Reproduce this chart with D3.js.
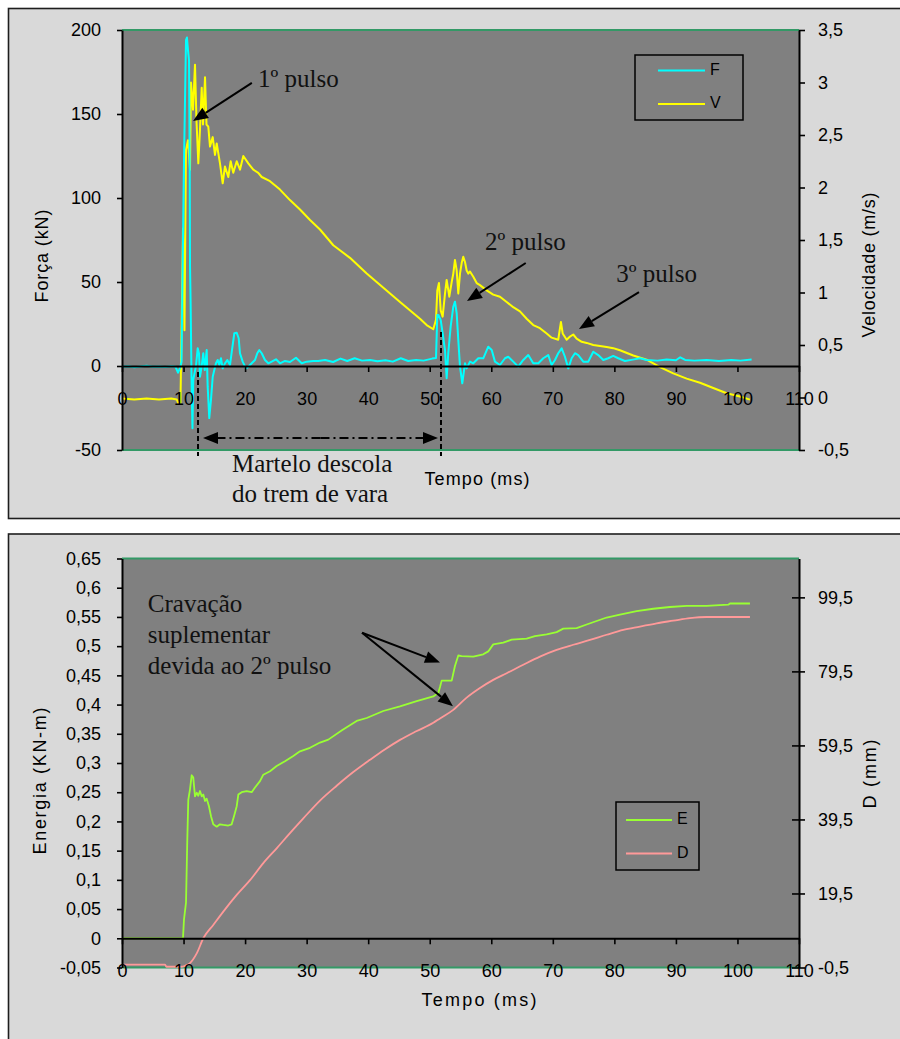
<!DOCTYPE html>
<html>
<head>
<meta charset="utf-8">
<script src="https://cdn.jsdelivr.net/npm/d3@7"></script>
<style>
  body { margin: 0; background: #ffffff; }
  svg { display: block; font-family: "Liberation Sans", Arial, sans-serif; }
</style>
</head>
<body>
<svg id="chart" width="900" height="1039"></svg>
<script>
// ---------- data: pile driving record ----------
const timeTicks = [0, 10, 20, 30, 40, 50, 60, 70, 80, 90, 100, 110];
const forceTicks = [-50, 0, 50, 100, 150, 200];
const velTicks = [-0.5, 0, 0.5, 1, 1.5, 2, 2.5, 3, 3.5];
const energyTicks = [-0.05, 0, 0.05, 0.1, 0.15, 0.2, 0.25, 0.3, 0.35, 0.4, 0.45, 0.5, 0.55, 0.6, 0.65];
const dispTicks = [-0.5, 19.5, 39.5, 59.5, 79.5, 99.5];

// Force F (kN) vs time (ms)
const forceTime = [0, 1, 2, 3, 4, 5, 6, 7, 8, 8.7, 9.1, 9.42, 9.67, 9.91, 10.07, 10.2, 10.4, 10.55, 10.72, 10.89,
  11.0, 11.05, 11.15, 11.3, 11.45, 11.58, 12.02, 12.3, 12.51, 12.67, 12.95, 13.21, 13.44, 13.76, 13.92, 14.18,
  14.46, 14.74, 15.0, 15.27, 15.55, 15.81, 16.08, 16.36, 16.73, 17.11, 17.55, 17.87, 18.25, 18.64, 18.96, 19.17,
  19.61, 20.15, 20.52, 21.07, 21.61, 21.98, 22.31, 22.7, 23.23, 23.77, 24.32, 25.02, 25.67, 26.48, 27.29, 28.27,
  29.2, 30.01, 31.08, 31.89, 33.0, 34.3, 35.5, 36.6, 37.8, 39.0, 40.3, 41.5, 42.8, 44.0, 45.3, 46.5, 47.8, 49.0,
  50.4, 51.02, 51.23, 51.4, 51.78, 52.1, 52.48, 52.75, 53.01, 53.4, 53.83, 54.1, 54.38, 54.64, 54.92, 55.29,
  55.73, 56.0, 56.54, 57.08, 57.89, 58.7, 59.51, 60.07, 60.6, 61.41, 62.23, 62.76, 63.57, 64.39, 65.2, 66.01,
  66.82, 67.64, 68.45, 69.26, 69.81, 70.35, 70.88, 71.44, 71.97, 72.51, 73.06, 73.6, 74.13, 74.95, 75.76, 76.57,
  77.38, 78.2, 79.01, 79.82, 80.63, 81.72, 83.0, 84.16, 85.25, 87.0, 88.5, 90.0, 90.7, 91.5, 93.0, 95.0, 97.0,
  99.0, 100.5, 102.3];
const forceKN = [-0.5, -0.2, -0.8, -0.3, 0.2, -0.5, -0.3, -0.6, -0.2, -0.5, -4, -1.2, 2.4, 75, 121, 150, 194, 195.5, 188, 182,
  120, 60, 37, -8, -37, -8, 0, 10.5, 7.5, -6.4, 0, 7.6, -2.4, 9.5, -12.3, -31,
  -20, -6.4, -2.4, 1.6, 3.6, 0.6, 4.6, -1.4, 1.6, 3.6, 0.6, 9.5, 19.5, 19.8, 16.5, 7.6,
  2.6, -1.4, -0.4, 1.6, 3.6, 7.6, 9.5, 7.6, 3.6, 1.6, 2.6, 4.0, 1.6, 3.0, 2.4, 4.9,
  1.6, 2.6, 3.0, 3.0, 3.6, 2.4, 4.4, 3.0, 4.6, 3.2, 3.6, 2.8, 3.4, 2.6, 4.6, 3.0, 3.6, 3.2,
  4.4, 4.8, 30.4, 30.4, 27.4, 19.5, 9.5, -7.3, 7.6, 23.4, 35.3, 38.3, 31.4, 15.5, -0.4, -10.3,
  1.6, -1.4, 2.6, 1.6, 4.6, 4.6, 11.5, 9.5, 2.6, 0.6, 4.6, 5.5, 2.6, -0.4, 3.6, 6.5,
  1.6, 1.6, 4.6, 6.5, 0.6, 3.6, 7.6, 10.5, 5.5, -1.4, 4.6, 7.6, 6.5, 2.6, 2.6, 8.5,
  6.5, 3.6, 4.6, 6.0, 4.6, 3.0, 3.8, 4.6, 3.6, 3.2, 3.8, 3.4, 5.2, 3.6, 3.2, 3.6, 3.0,
  3.6, 3.2, 3.9];

// Velocity V (m/s) vs time (ms)
const velTime = [0, 2, 4, 6, 8, 8.9, 9.2, 9.5, 9.75, 9.91, 10.15, 10.4, 10.72, 11.05, 11.21, 11.54, 11.86, 12.1,
  12.4, 12.67, 12.95, 13.16, 13.49, 13.73, 14.02, 14.3, 14.74, 15.11, 15.39, 15.92, 16.36, 16.73, 17.27, 17.66,
  18.08, 18.64, 19.17, 19.71, 20.52, 21.33, 22.14, 22.7, 24.05, 25.67, 27.29, 28.92, 30.55, 32.17, 34.33, 37.04,
  39.76, 45.17, 48.42, 49.5, 50.58, 51.02, 51.23, 51.5, 51.78, 52.1, 52.48, 52.75, 53.18, 53.57, 53.83, 54.1,
  54.38, 54.64, 54.92, 55.19, 55.45, 55.73, 56.0, 56.26, 56.54, 57.08, 57.63, 58.16, 59.25, 60.32, 61.41, 62.5,
  63.57, 64.66, 65.75, 66.82, 67.91, 69.0, 69.81, 70.88, 71.32, 71.6, 72.25, 72.79, 73.32, 73.87, 74.69, 75.5,
  76.57, 77.66, 78.75, 79.82, 80.91, 83.07, 85.25, 87.41, 89.57, 91.75, 93.92, 96.07, 98.25, 100.41, 102.03];
const velMs = [-0.01, -0.02, -0.01, -0.02, -0.01, -0.02, -0.06, -0.05, 0.93, 1.61, 0.64, 2.36, 2.45, 2.17, 3.0, 2.74, 3.17, 2.64,
  2.23, 2.55, 2.95, 2.6, 3.05, 2.6, 2.58, 2.39, 2.48, 2.31, 2.42, 2.23, 2.04, 2.2, 2.1, 2.25,
  2.14, 2.25, 2.17, 2.3, 2.23, 2.17, 2.14, 2.1, 2.06, 1.98, 1.88, 1.79, 1.69, 1.6, 1.45, 1.33,
  1.18, 0.91, 0.75, 0.69, 0.65, 0.74, 1.02, 1.09, 0.83, 0.77, 0.99, 1.12, 0.96, 1.1, 1.18, 1.31,
  1.21, 0.99, 1.18, 1.28, 1.34, 1.29, 1.21, 1.18, 1.2, 1.15, 1.09, 1.07, 1.02, 0.98, 0.96, 0.91,
  0.86, 0.82, 0.75, 0.69, 0.66, 0.61, 0.57, 0.55, 0.72, 0.61, 0.55, 0.58, 0.6, 0.56, 0.53, 0.52,
  0.5, 0.49, 0.48, 0.47, 0.45, 0.4, 0.36, 0.29, 0.23, 0.18, 0.14, 0.09, 0.04, 0.01, -0.02];

// Energy E (kN-m) vs time (ms)
const energyTime = [0, 9.91, 10.07, 10.4, 10.61, 10.77, 11.05, 11.32, 11.58, 11.86, 12.14, 12.4, 12.67, 12.95, 13.21,
  13.49, 13.76, 14.13, 14.46, 14.83, 15.39, 15.92, 16.46, 17.27, 17.82, 18.2, 18.64, 18.9, 19.45, 20.26, 21.07,
  21.61, 22.42, 22.96, 24.05, 25.13, 26.48, 27.83, 28.92, 30.55, 32.17, 33.52, 35.74, 38.13, 39.76, 42.45, 45.17,
  47.88, 50.58, 51.39, 51.67, 51.94, 53.57, 54.1, 54.64, 55.19, 57.08, 58.7, 59.51, 60.32, 61.95, 63.31, 65.75,
  67.1, 69.0, 70.62, 71.7, 73.87, 75.5, 77.12, 78.75, 80.91, 83.62, 86.32, 89.03, 91.75, 95.0, 98.51, 98.78, 102.03];
const energyKNm = [0, 0, 0.032, 0.061, 0.169, 0.237, 0.255, 0.279, 0.275, 0.243, 0.249, 0.244, 0.252, 0.243, 0.246,
  0.235, 0.239, 0.226, 0.209, 0.195, 0.191, 0.195, 0.194, 0.193, 0.195, 0.209, 0.226, 0.246, 0.25, 0.252, 0.25,
  0.258, 0.269, 0.28, 0.286, 0.295, 0.303, 0.312, 0.32, 0.326, 0.335, 0.34, 0.356, 0.372, 0.377, 0.389, 0.397,
  0.406, 0.414, 0.42, 0.43, 0.441, 0.441, 0.466, 0.484, 0.483, 0.482, 0.486, 0.491, 0.503, 0.506, 0.511, 0.513,
  0.517, 0.52, 0.524, 0.53, 0.531, 0.537, 0.543, 0.549, 0.554, 0.56, 0.564, 0.567, 0.569, 0.569, 0.571, 0.573, 0.573];

// Displacement D (mm) vs time (ms)
const dispTime = [0, 7.0, 7.2, 9.7, 10.3, 11.05, 12.14, 13.21, 14.83, 16.46, 18.64, 20.8, 22.96, 25.13, 27.29, 29.46,
  32.17, 34.88, 37.58, 40.29, 42.7, 45.17, 47.9, 50.58, 51.67, 53.83, 56.0, 58.16, 60.32, 62.5, 65.2, 67.91, 70.62,
  73.32, 76.03, 78.75, 81.45, 84.16, 86.87, 89.57, 92.28, 95.0, 102.03];
const dispMm = [0.3, 0.3, -0.3, -0.3, 0.0, 0.7, 3.3, 7.4, 11.0, 14.6, 19.1, 23.1, 27.7, 31.7, 35.8, 39.8,
  44.6, 48.6, 52.3, 55.6, 58.4, 61.0, 63.4, 65.6, 66.8, 69.1, 72.4, 75.0, 77.2, 79.0, 81.3, 83.5, 85.3,
  86.7, 88.0, 89.4, 90.7, 91.6, 92.5, 93.2, 93.9, 94.2, 94.2];

// ---------- drawing ----------
const svg = d3.select("#chart");
const fmt = d => String(+d.toFixed(2)).replace(".", ",");
const tickFont = "18px";
const colors = { F: "#00ffff", V: "#ffff00", E: "#99ff33", D: "#ff9999" };

const x = d3.scaleLinear().domain([0, 110]).range([122, 799]);

function panel(y0, h) {
  svg.append("rect").attr("x", 8.5).attr("y", y0).attr("width", 905).attr("height", h)
    .attr("fill", "#d9d9d9").attr("stroke", "#1e1e1e").attr("stroke-width", 1.6);
}

function plotArea(top, bottom) {
  svg.append("rect").attr("x", x(0)).attr("y", top).attr("width", x(110) - x(0)).attr("height", bottom - top)
    .attr("fill", "#808080");
  [top, bottom].forEach(yy => svg.append("line").attr("x1", x(0)).attr("x2", x(110))
    .attr("y1", yy).attr("y2", yy).attr("stroke", "#339966").attr("stroke-width", 2));
}

function series(ts, vs, yScale, color, width, curve) {
  const pts = ts.map((t, i) => [t, vs[i]]);
  svg.append("path").datum(pts)
    .attr("d", d3.line().curve(curve || d3.curveLinear).x(d => x(d[0])).y(d => yScale(d[1])))
    .attr("fill", "none").attr("stroke", color).attr("stroke-width", width)
    .attr("stroke-linejoin", "round");
}

function styleAxis(g) {
  g.selectAll("path.domain").attr("stroke", "#000").attr("stroke-width", 2);
  g.selectAll(".tick line").attr("stroke", "#000").attr("stroke-width", 1.6);
  g.selectAll(".tick text").attr("font-size", tickFont).attr("fill", "#000")
    .attr("font-family", "'Liberation Sans', Arial, sans-serif");
}

function xAxis(yPos) {
  const g = svg.append("g").attr("transform", `translate(0,${yPos})`)
    .call(d3.axisBottom(x).tickValues(timeTicks).tickFormat(d3.format("d")).tickSize(6).tickSizeOuter(0).tickPadding(20));
  styleAxis(g);
  return g;
}

function leftAxis(scale, ticks) {
  const g = svg.append("g").attr("transform", `translate(${x(0)},0)`)
    .call(d3.axisLeft(scale).tickValues(ticks).tickFormat(fmt).tickSize(5).tickSizeOuter(0).tickPadding(16));
  styleAxis(g);
  return g;
}

function rightAxis(scale, ticks, crossing) {
  const g = svg.append("g").attr("transform", `translate(${x(110)},0)`)
    .call(d3.axisRight(scale).tickValues(ticks).tickFormat(fmt).tickSize(6).tickSizeOuter(0).tickPadding(13));
  if (crossing) g.selectAll(".tick line").attr("x1", -7);
  styleAxis(g);
  return g;
}

function title(txt, cx, cy, len, rotate) {
  return svg.append("text").attr("x", 0).attr("y", 0)
    .attr("transform", `translate(${cx},${cy})` + (rotate ? " rotate(-90)" : ""))
    .attr("text-anchor", "middle").attr("dominant-baseline", "middle")
    .attr("font-size", "18px").attr("fill", "#000")
    .attr("textLength", len).attr("lengthAdjust", "spacing").text(txt);
}

function arrow(x1, y1, x2, y2, opts = {}) {
  const len = opts.head || 15, half = opts.half || 6;
  const a = Math.atan2(y2 - y1, x2 - x1);
  const bx = x2 - len * Math.cos(a), by = y2 - len * Math.sin(a);
  svg.append("line").attr("x1", x1).attr("y1", y1).attr("x2", bx).attr("y2", by)
    .attr("stroke", "#000").attr("stroke-width", 2).attr("stroke-dasharray", opts.dash || null);
  const p = [[x2, y2],
    [bx + half * Math.sin(a), by - half * Math.cos(a)],
    [bx - half * Math.sin(a), by + half * Math.cos(a)]];
  svg.append("polygon").attr("points", p.map(q => q.join(",")).join(" ")).attr("fill", "#000");
}

function note(lines, px, baseline, step) {
  const t = svg.append("text").attr("font-family", "'Liberation Serif', 'Times New Roman', serif")
    .attr("font-size", "25px").attr("fill", "#111");
  lines.forEach((s, i) => t.append("tspan").attr("x", px).attr("y", baseline + i * step).text(s));
}

function legend(x0, y0, w, h, items) {
  svg.append("rect").attr("x", x0).attr("y", y0).attr("width", w).attr("height", h)
    .attr("fill", "none").attr("stroke", "#000").attr("stroke-width", 1.5);
  items.forEach(it => {
    svg.append("line").attr("x1", it.x1).attr("x2", it.x2).attr("y1", it.y).attr("y2", it.y)
      .attr("stroke", it.color).attr("stroke-width", 2);
    svg.append("text").attr("x", it.x2 + 5).attr("y", it.y).attr("dominant-baseline", "middle")
      .attr("font-size", "16px").attr("fill", "#000").text(it.label);
  });
}

// ===== upper chart: force and velocity =====
panel(8.5, 510);
const topY = 30, botY = 450;
const yF = d3.scaleLinear().domain([-50, 200]).range([botY, topY]);
const yV = d3.scaleLinear().domain([-0.5, 3.5]).range([botY, topY]);
plotArea(topY, botY);

series(velTime, velMs, yV, colors.V, 2);
series(forceTime, forceKN, yF, colors.F, 2);

xAxis(yF(0));
leftAxis(yF, forceTicks);
rightAxis(yV, velTicks, false);

title("Tempo (ms)", 477, 480, 105, false);
title("Força (kN)", 43, 256, 93, true);
title("Velocidade (m/s)", 870, 265, 145, true);

legend(635, 55, 108, 65, [
  { x1: 658, x2: 705, y: 70.5, color: colors.F, label: "F" },
  { x1: 658, x2: 705, y: 104, color: colors.V, label: "V" }
]);

// pulse annotations
note(["1º pulso"], x(22.1), yF(166), 0);
arrow(x(21.1), yF(168.5), x(11.54), yF(145.8));
note(["2º pulso"], x(59.0), yF(69), 0);
arrow(x(65.6), yF(61.3), x(56.05), yF(38.7));
note(["3º pulso"], x(80.3), yF(50), 0);
arrow(x(84.0), yF(44), x(74.25), yF(22));

// separation interval of the hammer
[[12.35, -3.6], [51.83, 20.2]].forEach(([t, f]) => {
  svg.append("line").attr("x1", x(t)).attr("x2", x(t)).attr("y1", yF(f)).attr("y2", botY + 6)
    .attr("stroke", "#000").attr("stroke-width", 2).attr("stroke-dasharray", "5,3");
});
const spanY = yF(-42.9);
const midX = (x(13.16) + x(51.34)) / 2;
arrow(midX, spanY, x(13.16), spanY, { dash: "9,4,2,4", head: 15, half: 6 });
arrow(midX, spanY, x(51.34), spanY, { dash: "9,4,2,4", head: 15, half: 6 });
note(["Martelo descola", "do trem de vara"], x(17.87), 472, 30);

// ===== lower chart: energy and displacement =====
panel(534, 520);
const topY2 = 558.5, botY2 = 967.5;
const yE = d3.scaleLinear().domain([-0.05, 0.65]).range([botY2, topY2]);
const yD = d3.scaleLinear().domain([-0.5, 110]).range([botY2, topY2]);
plotArea(topY2, botY2);

series(dispTime, dispMm, yD, colors.D, 1.8, d3.curveMonotoneX);
series(energyTime, energyKNm, yE, colors.E, 1.8);

xAxis(yE(0));
leftAxis(yE, energyTicks);
rightAxis(yD, dispTicks, true);

title("Tempo (ms)", 479, 1001, 115, false);
title("Energia (KN-m)", 41, 781, 147, true);
title("D (mm)", 871, 774, 69, true);

legend(616, 802, 83, 68, [
  { x1: 626, x2: 672, y: 820, color: colors.E, label: "E" },
  { x1: 626, x2: 672, y: 853.5, color: colors.D, label: "D" }
]);

note(["Cravação", "suplementar", "devida ao 2º pulso"], x(4.2), yE(0.558), 31);
arrow(x(39.0), yE(0.523), x(51.67), yE(0.472));
arrow(x(39.0), yE(0.523), x(53.78), yE(0.397));
</script>
</body>
</html>
